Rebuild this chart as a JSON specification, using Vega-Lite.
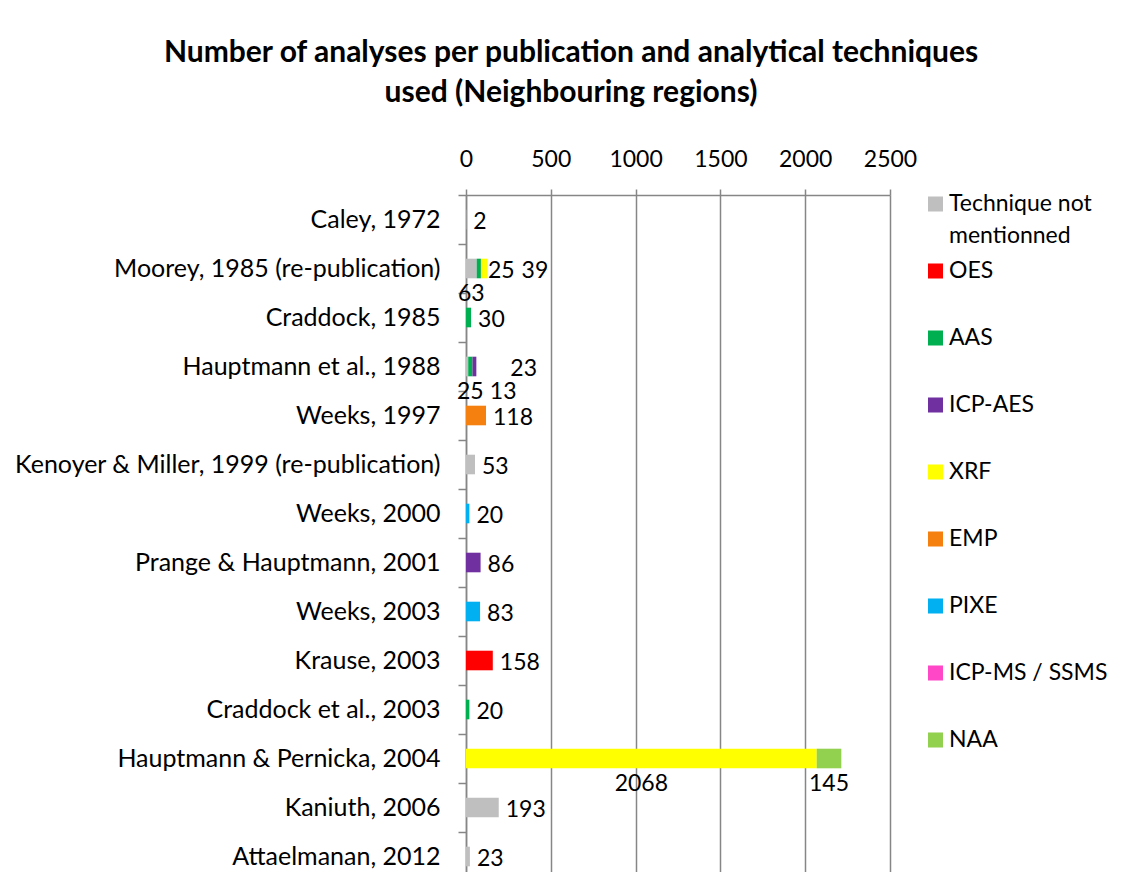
{
  "$schema": "https://vega.github.io/schema/vega-lite/v6.json",
  "width": 424,
  "height": 686,
  "padding": {"left": 14, "top": 38, "right": 10, "bottom": 0},
  "background": "white",
  "title": {
    "text": ["Number of analyses per publication and analytical techniques", "used (Neighbouring regions)"],
    "font": "Lato",
    "fontSize": 30,
    "fontWeight": "bold",
    "color": "#000000",
    "anchor": "middle",
    "frame": "bounds",
    "lineHeight": 40,
    "offset": 40,
    "dx": 10
  },
  "data": {
    "values": [
      {"pub": "Caley, 1972", "technique": "Technique not mentionned", "rank": 1, "value": 2, "lab": "end"},
      {"pub": "Moorey, 1985 (re-publication)", "technique": "Technique not mentionned", "rank": 1, "value": 63, "lab": "below"},
      {"pub": "Moorey, 1985 (re-publication)", "technique": "AAS", "rank": 3, "value": 25, "lab": "end"},
      {"pub": "Moorey, 1985 (re-publication)", "technique": "XRF", "rank": 5, "value": 39, "lab": "end2"},
      {"pub": "Craddock, 1985", "technique": "AAS", "rank": 3, "value": 30, "lab": "end"},
      {"pub": "Hauptmann et al., 1988", "technique": "Technique not mentionned", "rank": 1, "value": 13, "lab": "below2"},
      {"pub": "Hauptmann et al., 1988", "technique": "AAS", "rank": 3, "value": 25, "lab": "below"},
      {"pub": "Hauptmann et al., 1988", "technique": "ICP-AES", "rank": 4, "value": 23, "lab": "end2"},
      {"pub": "Weeks, 1997", "technique": "EMP", "rank": 6, "value": 118, "lab": "end"},
      {"pub": "Kenoyer & Miller, 1999 (re-publication)", "technique": "Technique not mentionned", "rank": 1, "value": 53, "lab": "end"},
      {"pub": "Weeks, 2000", "technique": "PIXE", "rank": 7, "value": 20, "lab": "end"},
      {"pub": "Prange & Hauptmann, 2001", "technique": "ICP-AES", "rank": 4, "value": 86, "lab": "end"},
      {"pub": "Weeks, 2003", "technique": "PIXE", "rank": 7, "value": 83, "lab": "end"},
      {"pub": "Krause, 2003", "technique": "OES", "rank": 2, "value": 158, "lab": "end"},
      {"pub": "Craddock et al., 2003", "technique": "AAS", "rank": 3, "value": 20, "lab": "end"},
      {"pub": "Hauptmann & Pernicka, 2004", "technique": "XRF", "rank": 5, "value": 2068, "lab": "below"},
      {"pub": "Hauptmann & Pernicka, 2004", "technique": "NAA", "rank": 9, "value": 145, "lab": "below"},
      {"pub": "Kaniuth, 2006", "technique": "Technique not mentionned", "rank": 1, "value": 193, "lab": "end"},
      {"pub": "Attaelmanan, 2012", "technique": "Technique not mentionned", "rank": 1, "value": 23, "lab": "end"}
    ]
  },
  "transform": [
    {"stack": "value", "groupby": ["pub"], "sort": [{"field": "rank", "order": "ascending"}], "as": ["v0", "v1"]},
    {"calculate": "(datum.v0 + datum.v1) / 2", "as": "mid"}
  ],
  "encoding": {
    "y": {
      "field": "pub",
      "type": "nominal",
      "sort": null,
      "scale": {"paddingInner": 0, "paddingOuter": 0},
      "axis": {
        "title": null,
        "orient": "left",
        "labelFont": "Lato",
        "labelFontSize": 25,
        "labelColor": "#000000",
        "labelLimit": 0,
        "labelPadding": 18,
        "tickBand": "extent",
        "tickSize": 8,
        "tickColor": "#868686",
        "tickWidth": 1.5,
        "domainColor": "#868686",
        "domainWidth": 1.5
      }
    }
  },
  "layer": [
    {
      "mark": {"type": "bar", "height": {"band": 0.4}},
      "encoding": {
        "x": {
          "field": "v0",
          "type": "quantitative",
          "scale": {"domain": [0, 2500], "nice": false},
          "axis": {
            "title": null,
            "orient": "top",
            "values": [0, 500, 1000, 1500, 2000, 2500],
            "format": "d",
            "labelFont": "Lato",
            "labelFontSize": 23,
            "labelColor": "#000000",
            "labelPadding": 18,
            "labelFlush": false,
            "tickSize": 6,
            "tickColor": "#868686",
            "tickWidth": 1.5,
            "domainColor": "#868686",
            "domainWidth": 1.5,
            "grid": true,
            "gridColor": "#868686",
            "gridWidth": 1.5
          }
        },
        "x2": {"field": "v1"},
        "color": {
          "field": "technique",
          "type": "nominal",
          "scale": {
            "domain": ["Technique not mentionned", "OES", "AAS", "ICP-AES", "XRF", "EMP", "PIXE", "ICP-MS / SSMS", "NAA"],
            "range": ["#BFBFBF", "#FF0000", "#00B050", "#7030A0", "#FFFF00", "#F5800F", "#00B0F0", "#FF47C8", "#92D050"]
          },
          "legend": {
            "title": null,
            "orient": "right",
            "offset": 34,
            "symbolType": "square",
            "symbolSize": 225,
            "symbolStrokeWidth": 0,
            "labelFont": "Lato",
            "labelFontSize": 23,
            "labelColor": "#000000",
            "labelOffset": 2,
            "labelLimit": 0,
            "labelExpr": "datum.label == 'Technique not mentionned' ? ['Technique not', 'mentionned'] : [datum.label, ' ']",
            "clipHeight": 18,
            "rowPadding": 12
          }
        }
      }
    },
    {
      "transform": [{"filter": "datum.lab == 'end'"}],
      "mark": {"type": "text", "font": "Lato", "fontSize": 23, "color": "#000000", "align": "left", "baseline": "middle", "dx": 7, "dy": 2},
      "encoding": {"x": {"field": "v1", "type": "quantitative"}, "text": {"field": "value", "type": "quantitative"}}
    },
    {
      "transform": [{"filter": "datum.lab == 'end2'"}],
      "mark": {"type": "text", "font": "Lato", "fontSize": 23, "color": "#000000", "align": "left", "baseline": "middle", "dx": 34, "dy": 2},
      "encoding": {"x": {"field": "v1", "type": "quantitative"}, "text": {"field": "value", "type": "quantitative"}}
    },
    {
      "transform": [{"filter": "datum.lab == 'below'"}],
      "mark": {"type": "text", "font": "Lato", "fontSize": 23, "color": "#000000", "align": "center", "baseline": "middle", "dy": 25},
      "encoding": {"x": {"field": "mid", "type": "quantitative"}, "text": {"field": "value", "type": "quantitative"}}
    },
    {
      "transform": [{"filter": "datum.lab == 'below2'"}],
      "mark": {"type": "text", "font": "Lato", "fontSize": 23, "color": "#000000", "align": "center", "baseline": "middle", "dx": 35, "dy": 25},
      "encoding": {"x": {"field": "v1", "type": "quantitative"}, "text": {"field": "value", "type": "quantitative"}}
    }
  ],
  "config": {
    "view": {"stroke": null},
    "style": {"guide-label": {"lineHeight": 32}}
  }
}
